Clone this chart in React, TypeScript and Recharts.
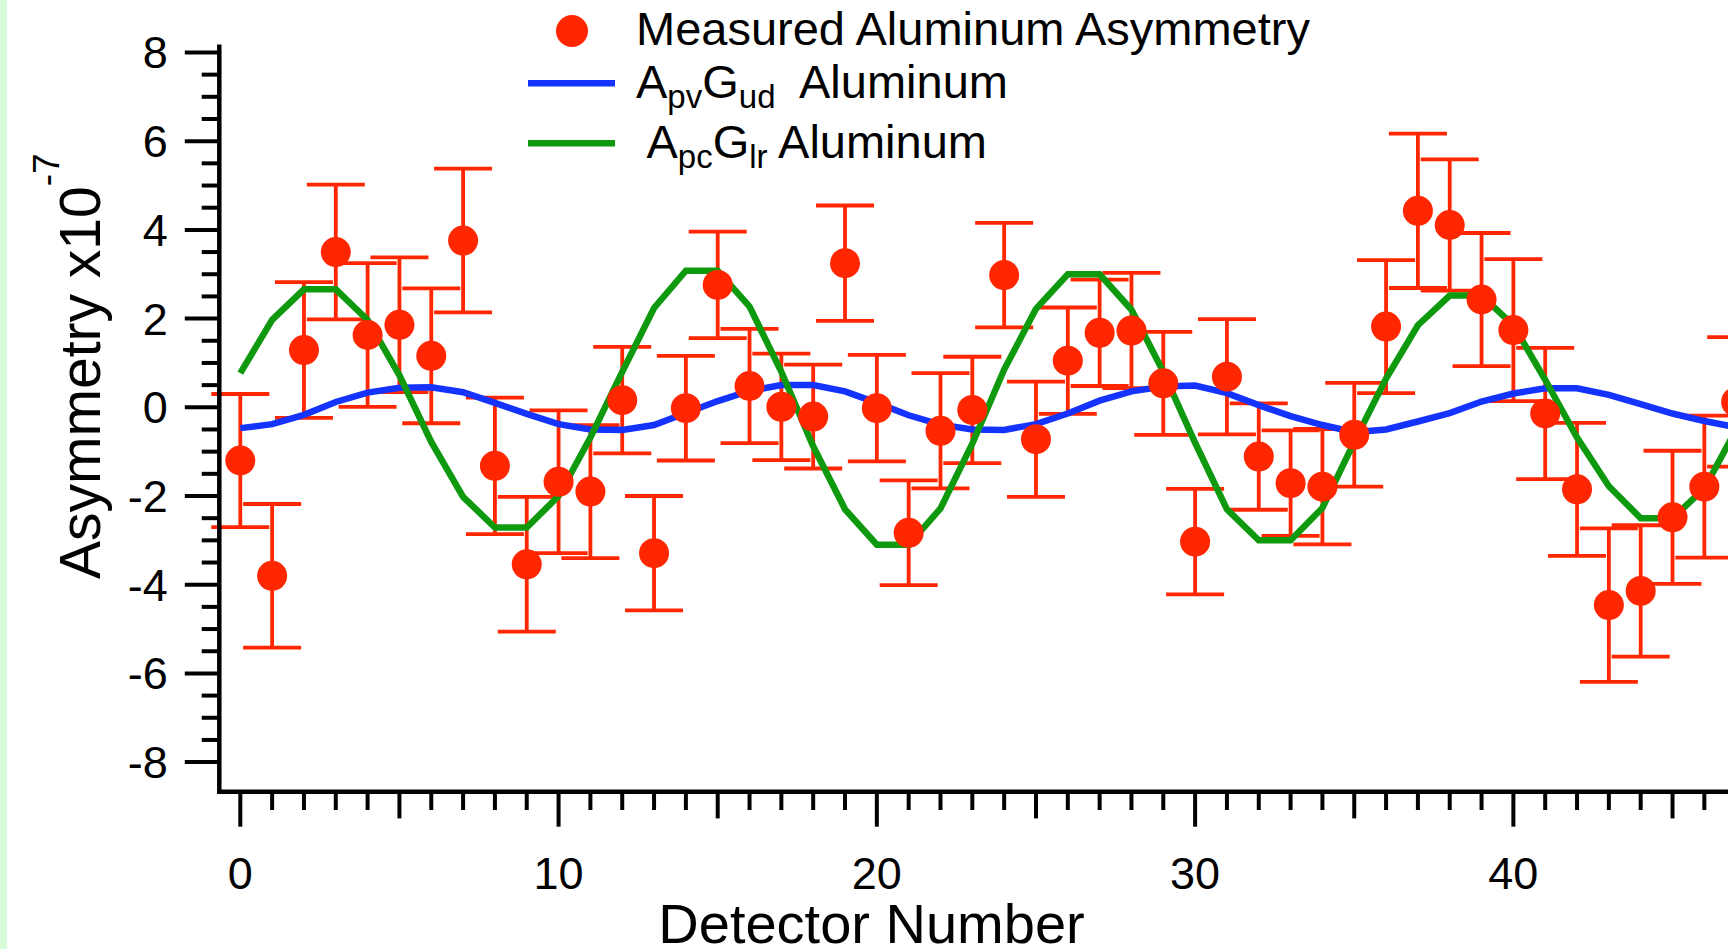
import React from "react";
import { ComposedChart, Line, Scatter, ErrorBar, XAxis, YAxis, Legend } from "recharts";

// ---------- data ----------
const DETECTORS = [0, 1, 2, 3, 4, 5, 6, 7, 8, 9, 10, 11, 12, 13, 14, 15, 16, 17, 18, 19, 20, 21, 22, 23, 24, 25, 26, 27, 28, 29, 30, 31, 32, 33, 34, 35, 36, 37, 38, 39, 40, 41, 42, 43, 44, 45, 46, 47];
const MEASURED = [-1.2, -3.8, 1.29, 3.5, 1.63, 1.86, 1.16, 3.76, -1.32, -3.54, -1.68, -1.9, 0.16, -3.29, -0.02, 2.76, 0.48, 0.01, -0.21, 3.25, -0.02, -2.83, -0.53, -0.06, 2.98, -0.72, 1.05, 1.68, 1.73, 0.54, -3.03, 0.69, -1.11, -1.71, -1.79, -0.62, 1.82, 4.43, 4.11, 2.43, 1.74, -0.14, -1.85, -4.46, -4.14, -2.48, -1.79, 0.12];
const MEASURED_ERR = [1.5, 1.62, 1.53, 1.52, 1.62, 1.52, 1.52, 1.62, 1.54, 1.52, 1.61, 1.5, 1.2, 1.29, 1.18, 1.2, 1.29, 1.2, 1.17, 1.3, 1.2, 1.18, 1.3, 1.2, 1.18, 1.3, 1.2, 1.2, 1.3, 1.16, 1.19, 1.3, 1.2, 1.19, 1.3, 1.17, 1.5, 1.74, 1.48, 1.5, 1.6, 1.48, 1.5, 1.73, 1.48, 1.5, 1.6, 1.46];
const APV_GUD = [-0.47, -0.38, -0.17, 0.12, 0.33, 0.44, 0.45, 0.34, 0.1, -0.15, -0.38, -0.5, -0.51, -0.4, -0.13, 0.14, 0.37, 0.5, 0.5, 0.36, 0.1, -0.18, -0.39, -0.5, -0.51, -0.38, -0.14, 0.15, 0.36, 0.47, 0.49, 0.32, 0.05, -0.2, -0.4, -0.56, -0.5, -0.32, -0.13, 0.13, 0.31, 0.43, 0.43, 0.28, 0.07, -0.14, -0.31, -0.45];
const APC_GLR = [0.77, 1.97, 2.66, 2.66, 1.97, 0.72, -0.78, -2.02, -2.71, -2.71, -2.0, -0.68, 0.8, 2.24, 3.08, 3.08, 2.27, 0.8, -0.88, -2.3, -3.1, -3.1, -2.28, -0.82, 0.85, 2.22, 3.0, 3.0, 2.2, 0.8, -0.8, -2.3, -3.0, -3.0, -2.27, -0.78, 0.65, 1.85, 2.52, 2.52, 1.85, 0.62, -0.68, -1.78, -2.5, -2.5, -1.83, -0.5];

const X_TICKS = [0, 1, 2, 3, 4, 5, 6, 7, 8, 9, 10, 11, 12, 13, 14, 15, 16, 17, 18, 19, 20, 21, 22, 23, 24, 25, 26, 27, 28, 29, 30, 31, 32, 33, 34, 35, 36, 37, 38, 39, 40, 41, 42, 43, 44, 45, 46, 47, 48];
const X_LABELLED = [0, 10, 20, 30, 40];
const X_MEDIUM = [5, 15, 25, 35, 45];
const Y_TICKS = [-8, -7.5, -7, -6.5, -6, -5.5, -5, -4.5, -4, -3.5, -3, -2.5, -2, -1.5, -1, -0.5, 0, 0.5, 1, 1.5, 2, 2.5, 3, 3.5, 4, 4.5, 5, 5.5, 6, 6.5, 7, 7.5, 8];
const Y_LABELLED = [-8, -6, -4, -2, 0, 2, 4, 6, 8];

const X_TITLE = "Detector Number";
const Y_TITLE = "Asymmetry x10";
const Y_TITLE_EXP = "-7";
const LEGEND_MEASURED = "Measured Aluminum Asymmetry";

// ---------- styles ----------
const FONT = '"Liberation Sans", Arial, Helvetica, sans-serif';
const RED = "#ff2600";
const BLUE = "#1433ff";
const GREEN = "#0f990f";

const rows = DETECTORS.map((n, i) => ({
  n,
  measured: MEASURED[i],
  err: MEASURED_ERR[i],
  ud: APV_GUD[i],
  lr: APC_GLR[i],
}));

function YTick(props: any) {
  const { x, y, payload } = props;
  const v = payload.value;
  const major = Y_LABELLED.includes(v);
  return (
    <g>
      <line x1={x - (major ? 34.5 : 17.6)} x2={x} y1={y} y2={y} stroke="#000" strokeWidth={4} />
      {major && (
        <text x={x - 51.5} y={y + 16} textAnchor="end" fontSize={45} fontFamily={FONT} fill="#000">
          {String(v)}
        </text>
      )}
    </g>
  );
}

function XTick(props: any) {
  const { x, y, payload } = props;
  const v = payload.value;
  const major = X_LABELLED.includes(v);
  const len = major ? 35 : X_MEDIUM.includes(v) ? 26.7 : 18.3;
  return (
    <g>
      <line x1={x} x2={x} y1={y} y2={y + len} stroke="#000" strokeWidth={4} />
      {major && (
        <text x={x} y={y + 96.8} textAnchor="middle" fontSize={45} fontFamily={FONT} fill="#000">
          {String(v)}
        </text>
      )}
    </g>
  );
}

const renderYTitle = () => (
  <text transform="translate(100,579) rotate(-90)" fontSize={57} fontFamily={FONT} fill="#000">
    {Y_TITLE}
    <tspan dy={-41} fontSize={37}>{Y_TITLE_EXP}</tspan>
  </text>
);

const renderXTitle = () => (
  <text x={871.5} y={943} textAnchor="middle" fontSize={56} fontFamily={FONT} fill="#000">
    {X_TITLE}
  </text>
);

const renderLegend = () => (
  <svg width={1200} height={200} style={{ overflow: "visible", display: "block" }}>
    <circle cx={572} cy={31} r={16} fill={RED} />
    <text x={636} y={45} fontSize={47} fontFamily={FONT} fill="#000">
      {LEGEND_MEASURED}
    </text>
    <line x1={528} x2={615} y1={83.3} y2={83.3} stroke={BLUE} strokeWidth={6.5} />
    <text x={636} y={98} fontSize={47} fontFamily={FONT} fill="#000" style={{ whiteSpace: "pre" }}>
      A<tspan fontSize={33} dy={10}>pv</tspan>
      <tspan fontSize={47} dy={-10}>G</tspan>
      <tspan fontSize={33} dy={10}>ud</tspan>
      <tspan fontSize={47} dy={-10}>{"  Aluminum"}</tspan>
    </text>
    <line x1={528} x2={615} y1={143.3} y2={143.3} stroke={GREEN} strokeWidth={6.5} />
    <text x={636} y={158} fontSize={47} fontFamily={FONT} fill="#000" style={{ whiteSpace: "pre" }}>
      {" A"}<tspan fontSize={33} dy={10}>pc</tspan>
      <tspan fontSize={47} dy={-10}>G</tspan>
      <tspan fontSize={33} dy={10}>lr</tspan>
      <tspan fontSize={47} dy={-10}>{" Aluminum"}</tspan>
    </text>
  </svg>
);

const Dot = (props: any) => {
  const { cx, cy } = props;
  if (cx == null || cy == null) return null;
  return <circle cx={cx} cy={cy} r={15} fill={RED} />;
};

export default function App() {
  return (
    <div style={{ position: "fixed", left: 0, top: 0, width: 1728, height: 949, overflow: "hidden", background: "#fff" }}>
      <div style={{ position: "absolute", left: 0, top: 0, width: 7, height: 949, background: "#d6fbd8", zIndex: 2 }} />
      <ComposedChart width={1800} height={949} data={rows} margin={{ top: 46.7, right: 11, bottom: 0, left: 0 }}>
        <XAxis
          dataKey="n"
          type="number"
          domain={[-0.66, 48.66]}
          ticks={X_TICKS}
          interval={0}
          allowDataOverflow
          tickLine={false}
          tickSize={0}
          tickMargin={0}
          tick={<XTick />}
          height={157.3}
          axisLine={{ stroke: "#000", strokeWidth: 4.5, strokeLinecap: "square" }}
          label={renderXTitle}
        />
        <YAxis
          type="number"
          domain={[-8.667, 8.13]}
          ticks={Y_TICKS}
          interval={0}
          allowDataOverflow
          tickLine={false}
          tickSize={0}
          tickMargin={0}
          tick={<YTick />}
          width={219.3}
          axisLine={{ stroke: "#000", strokeWidth: 4.5, strokeLinecap: "square" }}
          label={renderYTitle}
        />
        <Legend layout="horizontal" verticalAlign="middle" align="center" wrapperStyle={{ left: 0, top: 0, width: 1200, height: 200 }} content={renderLegend} />
        <Scatter dataKey="measured" name={LEGEND_MEASURED} fill={RED} shape={<Dot />} isAnimationActive={false}>
          <ErrorBar dataKey="err" direction="y" width={29} strokeWidth={3.8} stroke={RED} />
        </Scatter>
        <Line dataKey="ud" type="linear" stroke={BLUE} strokeWidth={6.5} dot={false} activeDot={false} isAnimationActive={false} />
        <Line dataKey="lr" type="linear" stroke={GREEN} strokeWidth={6.5} dot={false} activeDot={false} isAnimationActive={false} />
      </ComposedChart>
    </div>
  );
}
